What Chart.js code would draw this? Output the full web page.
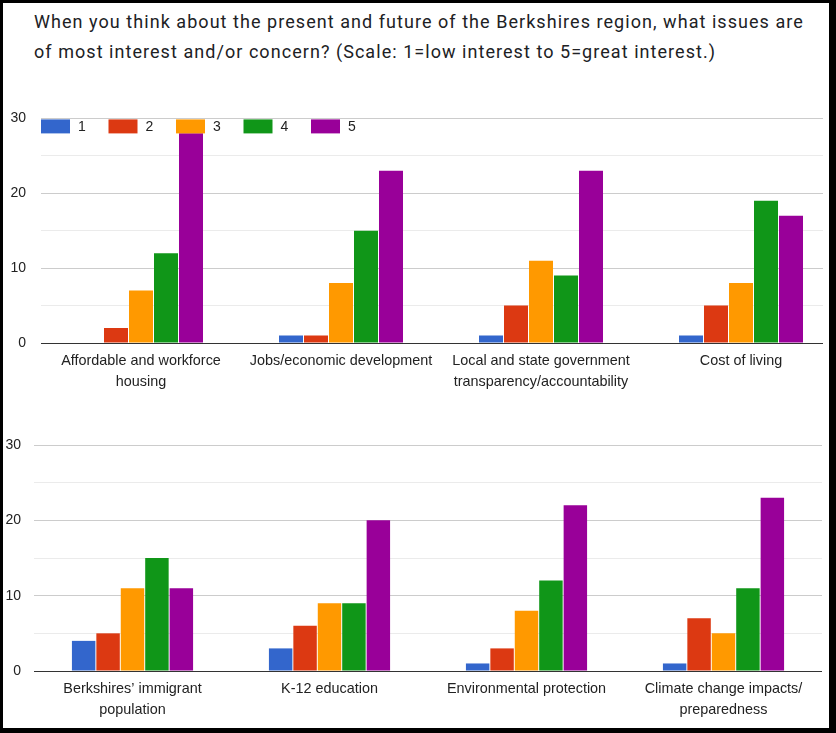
<!DOCTYPE html>
<html>
<head>
<meta charset="utf-8">
<script src="https://cdn.jsdelivr.net/npm/chart.js@4"></script>
<style>
    html, body { margin: 0; padding: 0; background: #fff; }
    #frame { position: relative; width: 836px; height: 733px; background: #000; overflow: hidden; }
    #paper { position: absolute; left: 3px; top: 3px; width: 826px; height: 725px; background: #fff; }
    #title { position: absolute; left: 31px; top: 4px; width: 788px; font-family: Roboto, sans-serif; font-size: 18px; letter-spacing: 1.05px; line-height: 30px; color: #202124; }
    .box { position: absolute; overflow: hidden; }
    #topBox { left: 0; top: 92px; width: 820px; height: 310px; }
    #bottomBox { left: 0; top: 417px; width: 826px; height: 307px; }
</style>
</head>
<body>
<div id="frame">
    <div id="paper">
        <div id="title">When you think about the present and future of the Berkshires region, what issues are of most interest and/or concern? (Scale: 1=low interest to 5=great interest.)</div>
        <div class="box" id="topBox"><canvas id="topChart" width="860" height="310"></canvas></div>
        <div class="box" id="bottomBox"><canvas id="bottomChart" width="826" height="307"></canvas></div>
    </div>
</div>
<script>
`use strict`;

// scale answers (legend)
const scaleLabels = [`1`, `2`, `3`, `4`, `5`];
const seriesColors = [`#3366cc`, `#dc3912`, `#ff9900`, `#109618`, `#990099`];

// y axis ticks
const yMin = 0;
const yMax = 30;
const yStep = 5;
const yLabelStep = 10;

// top panel
const topCategories = [
    [`Affordable and workforce`, `housing`],
    `Jobs/economic development`,
    [`Local and state government`, `transparency/accountability`],
    `Cost of living`
];
const topScore1 = [0, 1, 1, 1];
const topScore2 = [2, 1, 5, 5];
const topScore3 = [7, 8, 11, 8];
const topScore4 = [12, 15, 9, 19];
const topScore5 = [28, 23, 23, 17];

// bottom panel
const bottomCategories = [
    [`Berkshires\u2019 immigrant`, `population`],
    `K-12 education`,
    `Environmental protection`,
    [`Climate change impacts/`, `preparedness`]
];
const bottomScore1 = [4, 3, 1, 1];
const bottomScore2 = [5, 6, 3, 7];
const bottomScore3 = [11, 9, 8, 5];
const bottomScore4 = [15, 9, 12, 11];
const bottomScore5 = [11, 20, 22, 23];

const FONT = `"Liberation Sans", Arial, sans-serif`;

// legend drawn inside the plot area, like google charts
const insideLegend = {
    id: `insideLegend`,
    afterDatasetsDraw(chart, args, opts) {
        if (!opts.show) return;
        const ctx = chart.ctx;
        const area = chart.chartArea;
        ctx.save();
        ctx.font = `14px ${FONT}`;
        ctx.textBaseline = `middle`;
        ctx.textAlign = `left`;
        chart.data.datasets.forEach((ds, i) => {
            const x = area.left + i * 67.5;
            const y = area.top + 1;
            ctx.fillStyle = ds.backgroundColor;
            ctx.fillRect(x, y, 29, 14);
            ctx.fillStyle = `#222222`;
            ctx.fillText(ds.label, x + 37, y + 7.5);
        });
        ctx.restore();
    }
};

const CHART = {
    _INIT: function(canvasId, categories, series, cfg) {
        const ctx = document.getElementById(canvasId);
        new Chart(ctx, {
            type: `bar`,
            data: {
                labels: categories,
                datasets: series.map((values, i) => ({
                    label: scaleLabels[i],
                    data: values,
                    backgroundColor: seriesColors[i],
                    borderWidth: 0,
                    categoryPercentage: cfg.categoryPercentage,
                    barPercentage: 0.96
                }))
            },
            options: {
                responsive: false,
                animation: false,
                devicePixelRatio: 1,
                layout: {
                    padding: { left: 0, right: cfg.padRight, top: cfg.padTop, bottom: 0 }
                },
                scales: {
                    x: {
                        grid: { display: false },
                        border: { display: false },
                        ticks: {
                            color: `#222222`,
                            font: { family: FONT, size: 14.4, lineHeight: 1.45 },
                            padding: 0,
                            maxRotation: 0,
                            autoSkip: false
                        },
                        afterFit: scale => { scale.height = cfg.xHeight; }
                    },
                    y: {
                        min: yMin,
                        max: yMax,
                        border: { display: false },
                        grid: {
                            drawTicks: false,
                            color: c => c.tick.value === 0 ? `#333333` : (c.tick.value % yLabelStep === 0 ? `#cccccc` : `#ebebeb`)
                        },
                        ticks: {
                            stepSize: yStep,
                            color: `#222222`,
                            font: { family: FONT, size: 14 },
                            padding: cfg.yPad,
                            callback: v => v % yLabelStep === 0 ? v : ``
                        },
                        afterFit: scale => { scale.width = cfg.yWidth; }
                    }
                },
                plugins: {
                    legend: { display: false },
                    tooltip: { enabled: false },
                    insideLegend: { show: cfg.legend }
                }
            },
            plugins: [insideLegend]
        });
    },
    _RUN: function() {
        CHART._INIT(`topChart`, topCategories,
            [topScore1, topScore2, topScore3, topScore4, topScore5],
            { categoryPercentage: 0.625, padRight: 22, padTop: 22, xHeight: 62, yWidth: 38, yPad: 15, legend: true });
        CHART._INIT(`bottomChart`, bottomCategories,
            [bottomScore1, bottomScore2, bottomScore3, bottomScore4, bottomScore5],
            { categoryPercentage: 0.62, padRight: 7, padTop: 25, xHeight: 56, yWidth: 31, yPad: 13, legend: false });
    }
};

CHART._RUN();
</script>
</body>
</html>
